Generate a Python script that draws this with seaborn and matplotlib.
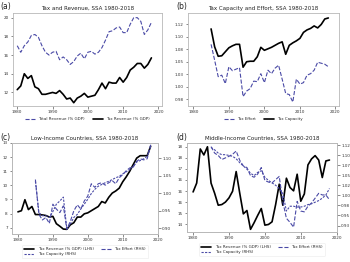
import numpy as np
import pandas as pd
import seaborn as sns
import matplotlib
matplotlib.use("Agg")
import matplotlib.pyplot as plt

sns.set_theme(style="white")
plt.rcParams['font.family'] = ['DejaVu Sans']

years_a = list(range(1980, 2019))
years_b = list(range(1985, 2019))

total_revenue = [17.0, 16.3, 17.0, 17.4, 18.1, 18.2, 17.9, 17.0, 16.3, 16.0,
                 16.3, 16.4, 15.5, 15.8, 15.5, 15.0, 15.3, 15.9, 16.2, 15.6,
                 16.3, 16.4, 16.1, 16.3, 16.8, 17.6, 18.5, 18.6, 18.9, 19.0,
                 18.4, 18.4, 19.3, 20.0, 20.0, 19.6, 18.2, 18.7, 19.5]
tax_revenue = [12.3, 12.7, 14.0, 13.5, 13.8, 12.6, 12.4, 11.8, 11.8, 11.9,
               12.0, 11.9, 12.2, 11.8, 11.3, 11.4, 10.9, 11.4, 11.6, 11.9,
               11.5, 11.6, 11.7, 12.3, 13.0, 12.4, 13.1, 13.0, 13.0, 13.6,
               13.1, 13.6, 14.4, 14.7, 15.1, 15.1, 14.6, 15.0, 15.7]

ssa_capacity = [1.116, 1.080, 1.061, 1.062, 1.070, 1.078, 1.082, 1.085, 1.085, 1.039,
                1.050, 1.051, 1.051, 1.060, 1.079, 1.073, 1.076, 1.079, 1.083, 1.087,
                1.090, 1.065, 1.083, 1.088, 1.092, 1.097, 1.109, 1.114, 1.117, 1.122,
                1.118, 1.125, 1.136, 1.138]
ssa_effort = [1.085, 1.053, 1.020, 1.023, 1.006, 1.040, 1.032, 1.035, 1.038, 0.980,
              0.991, 0.996, 1.011, 1.010, 1.026, 1.008, 1.033, 1.026, 1.037, 1.043,
              1.015, 0.986, 0.984, 0.969, 1.015, 1.005, 1.008, 1.023, 1.026, 1.033,
              1.049, 1.047, 1.045, 1.040]

lic_revenue = [8.12, 8.2, 8.98, 8.28, 8.5, 7.93, 7.93, 7.9, 7.86, 7.75,
               7.8, 7.28, 7.1, 6.9, 6.88, 7.2, 7.35, 7.75, 7.75, 7.98,
               8.05, 8.2, 8.35, 8.5, 8.85, 8.75, 9.15, 9.45, 9.6, 9.8,
               10.25, 10.6, 11.0, 11.47, 11.93, 12.1, 12.1, 12.1, 12.77]
lic_effort = [1.039, 0.940, 0.924, 0.931, 0.914, 0.969, 0.955, 0.945, 0.964, 0.898,
              0.920, 0.950, 0.967, 0.955, 0.978, 0.992, 1.027, 1.017, 1.027, 1.030,
              1.023, 1.030, 1.036, 1.027, 1.044, 1.053, 1.064, 1.072, 1.074, 1.091,
              1.098, 1.095, 1.098, 1.138]
lic_capacity = [1.034, 0.945, 0.936, 0.936, 0.931, 0.948, 0.969, 0.978, 0.989, 0.898,
                0.912, 0.931, 0.940, 0.955, 0.969, 0.983, 0.999, 1.011, 1.020, 1.025,
                1.030, 1.034, 1.039, 1.044, 1.048, 1.055, 1.061, 1.067, 1.077, 1.089,
                1.093, 1.098, 1.105, 1.133]

mic_revenue = [15.96, 16.36, 17.9, 17.63, 18.0, 16.36, 15.9, 15.36, 15.39, 15.5,
               15.69, 15.99, 16.88, 15.9, 14.97, 15.12, 14.27, 14.57, 14.9, 15.21,
               14.46, 14.49, 14.61, 15.39, 16.31, 15.36, 16.58, 16.16, 16.01, 16.76,
               15.54, 15.87, 17.18, 17.45, 17.6, 17.4, 16.61, 17.36, 17.4]
mic_effort = [1.121, 1.105, 1.099, 1.089, 1.093, 1.097, 1.102, 1.110, 1.087, 1.073,
              1.069, 1.049, 1.045, 1.053, 1.069, 1.037, 1.033, 1.031, 1.039, 1.047,
              0.985, 0.943, 0.933, 0.921, 0.985, 0.961, 0.959, 0.973, 0.981, 0.993,
              1.005, 1.001, 1.001, 0.989]
mic_capacity = [1.119, 1.113, 1.105, 1.101, 1.101, 1.099, 1.097, 1.091, 1.081, 1.073,
                1.065, 1.055, 1.049, 1.057, 1.061, 1.045, 1.037, 1.031, 1.025, 1.017,
                1.005, 0.961, 0.973, 0.973, 0.971, 0.971, 0.973, 0.977, 0.979, 0.983,
                0.987, 0.993, 1.001, 1.017]

xticks = [1980, 1990, 2000, 2010, 2020]
a_yticks = [12, 14, 16, 18, 20]
b_yticks = [0.975, 1.0, 1.025, 1.05, 1.075, 1.1, 1.125]
b_ylabels = ['0.98', '1.00', '1.03', '1.05', '1.08', '1.10', '1.12']
c_yticks = [7, 8, 9, 10, 11, 12, 13]
c_rticks = [0.90, 0.95, 1.00, 1.05, 1.10]
c_rlabels = ['0.90', '0.95', '1.00', '1.05', '1.10']
d_yticks = [14.5, 15.0, 15.5, 16.0, 16.5, 17.0, 17.5, 18.0]
d_ylabels = ['14', '15', '16', '16', '16', '17', '18', '18']
d_rticks = [0.925, 0.95, 0.975, 1.0, 1.025, 1.05, 1.075, 1.1, 1.125]
d_rlabels = ['0.93', '0.95', '0.98', '1.00', '1.02', '1.05', '1.07', '1.10', '1.12']

BLUE = '#4a4aa6'
W, H = 350, 262
fig = plt.figure(figsize=(3.5, 2.62), dpi=100)

def box(l, r, t, b):
    return [l / W, 1 - b / H, (r - l) / W, (b - t) / H]

TICK_FS = 3.0
TITLE_FS = 4.0
LEG_FS = 2.9

def style(ax, title=None):
    for s in ax.spines.values():
        s.set_color('#b8b8b8')
        s.set_linewidth(0.6)
    ax.tick_params(axis='both', which='both', length=1.8, width=0.4, pad=1.2,
                   labelsize=TICK_FS, colors='#333333', bottom=True, left=True)
    ax.set_xlabel('')
    ax.set_ylabel('')
    if title:
        ax.set_title(title, fontsize=TITLE_FS, pad=2, color='#222222')

def right_style(ax2):
    for s in ax2.spines.values():
        s.set_color('#b8b8b8')
        s.set_linewidth(0.6)
    ax2.tick_params(axis='y', length=1.8, width=0.4, pad=1.2, labelsize=TICK_FS,
                    colors='#333333', right=True)
    ax2.set_ylabel('')
    ax2.grid(False)

# (a)
ax = fig.add_axes(box(13, 162, 13, 106))
sns.lineplot(x=years_a, y=total_revenue, ax=ax, color=BLUE, linestyle='--', lw=0.8,
             label='Total Revenue (% GDP)')
sns.lineplot(x=years_a, y=tax_revenue, ax=ax, color='black', lw=1.2,
             label='Tax Revenue (% GDP)')
ax.set_xlim(1978.8, 2021.0)
ax.set_ylim(10.55, 20.5)
ax.set_xticks(xticks)
ax.set_yticks(a_yticks)
style(ax, 'Tax and Revenue, SSA 1980-2018')
ax.legend(loc='upper center', bbox_to_anchor=(0.5, -0.08), ncol=2, fontsize=LEG_FS,
          frameon=False, handlelength=2.5, columnspacing=2.0)

# (b)
ax = fig.add_axes(box(188, 339, 13, 106))
sns.lineplot(x=years_b, y=ssa_effort, ax=ax, color=BLUE, linestyle='--', lw=0.8,
             label='Tax Effort')
sns.lineplot(x=years_b, y=ssa_capacity, ax=ax, color='black', lw=1.2,
             label='Tax Capacity')
ax.set_xlim(1978.5, 2021.0)
ax.set_ylim(0.961, 1.148)
ax.set_xticks(xticks)
ax.set_yticks(b_yticks)
ax.set_yticklabels(b_ylabels)
style(ax, 'Tax Capacity and Effort, SSA 1980-2018')
ax.legend(loc='upper center', bbox_to_anchor=(0.5, -0.08), ncol=2, fontsize=LEG_FS,
          frameon=False, handlelength=2.5, columnspacing=2.0)

def bottom_panel(rect, title, rev, eff, cap, ylim, rylim, yt, yl, rt, rl):
    ax = fig.add_axes(rect)
    sns.lineplot(x=years_a, y=rev, ax=ax, color='black', lw=1.2,
                 label='Tax Revenue (% GDP) (LHS)', legend=False)
    ax.set_xlim(1978.3, 2020.1)
    ax.set_ylim(*ylim)
    ax.set_xticks(xticks)
    ax.set_yticks(yt)
    if yl is not None:
        ax.set_yticklabels(yl)
    style(ax, title)
    ax2 = ax.twinx()
    sns.lineplot(x=years_b, y=eff, ax=ax2, color=BLUE, linestyle='--', lw=0.8,
                 label='Tax Effort (RHS)', legend=False)
    sns.lineplot(x=years_b, y=cap, ax=ax2, color=BLUE, lw=0.8,
                 label='Tax Capacity (RHS)', legend=False)
    ax2.lines[-1].set_dashes([2.0, 1.2])
    ax2.set_ylim(*rylim)
    ax2.set_yticks(rt)
    ax2.set_yticklabels(rl)
    right_style(ax2)
    h1 = ax.get_lines()[0]
    h_eff, h_cap = ax2.get_lines()[0], ax2.get_lines()[1]
    handles = [h1, h_cap, h_eff]
    labels = [h.get_label() for h in handles]
    leg = ax.legend(handles, labels, loc='upper center', bbox_to_anchor=(0.5, -0.1),
                    ncol=2, fontsize=LEG_FS, frameon=True, handlelength=2.5,
                    columnspacing=1.8, borderpad=0.5, labelspacing=0.3)
    leg.get_frame().set_edgecolor('#e6e6e6')
    leg.get_frame().set_linewidth(0.4)
    return ax

bottom_panel(box(12, 158, 143, 234), 'Low-Income Countries, SSA 1980-2018',
             lic_revenue, lic_effort, lic_capacity, (6.55, 13.0), (0.884, 1.143),
             c_yticks, None, c_rticks, c_rlabels)
bottom_panel(box(187, 337, 143, 232), 'Middle-Income Countries, SSA 1980-2018',
             mic_revenue, mic_effort, mic_capacity, (14.15, 18.17), (0.909, 1.130),
             d_yticks, d_ylabels, d_rticks, d_rlabels)

for lab, x, y in [('(a)', 0, 2), ('(b)', 176, 2), ('(c)', 0, 133), ('(d)', 176, 133)]:
    fig.text(x / W, 1 - y / H, lab, fontsize=5.5, ha='left', va='top', color='#222222')

fig.savefig('out.png', dpi=100)
